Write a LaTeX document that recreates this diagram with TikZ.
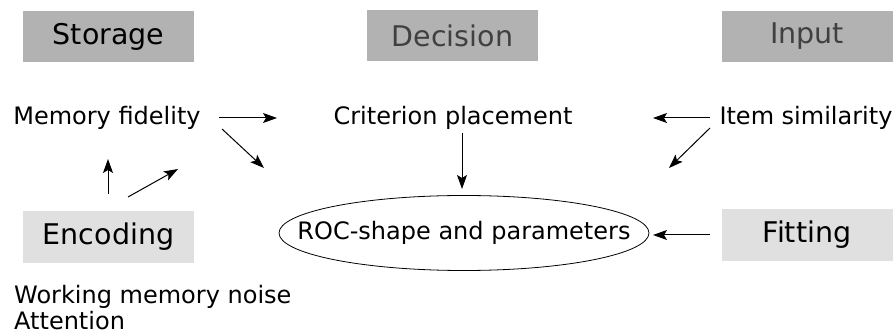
\documentclass[tikz,border=0pt]{standalone}
\usepackage{fontspec}
\setmainfont{DejaVu Sans}
\usetikzlibrary{arrows.meta}
\begin{document}
\begin{tikzpicture}[x=1pt,y=-1pt,
  head/.style={fill=black!30, minimum width=171pt, minimum height=51pt, inner sep=0pt, font=\fontsize{28.5}{32}\selectfont},
  stage/.style={fill=black!12, minimum width=171pt, minimum height=52pt, inner sep=0pt, font=\fontsize{28.5}{32}\selectfont},
  factor/.style={inner sep=1pt, font=\fontsize{24}{28}\selectfont},
  conn/.style={-{Stealth[length=14pt,width=10pt,inset=3pt]}, line width=1pt}]
\useasboundingbox (0,0) rectangle (894,336);
% category headers
\node[head] (storage) at (108.5,36.5) {Storage};
\node[head, text=black!75] (decision) at (452.5,36) {Decision};
\node[head, text=black!75] (input) at (807,36.5) {Input};
% factors
\node[factor] (fidelity) at (107,118) {Memory fidelity};
\node[factor] (criterion) at (453,118) {Criterion placement};
\node[factor] (similarity) at (806,118) {Item similarity};
% stages
\node[stage] (encoding) at (108.5,237) {Encoding};
\node[stage] (fitting) at (807,235) {Fitting};
\node[factor] (roc) at (464,233) {ROC-shape and parameters};
\draw[line width=0.8pt] (roc.center) ellipse [x radius=185, y radius=37.5];
\node[factor, anchor=north west, align=left, font=\fontsize{24}{26}\selectfont] (notes) at (13,284) {Working memory noise\\Attention};
% connector end points
\coordinate (f0) at (219,118);
\coordinate (fa) at (277,118);
\coordinate (f1) at (222,129);
\coordinate (fb) at (264,168);
\coordinate (es) at (108,194);
\coordinate (ea) at (108,159);
\coordinate (ed) at (128,197);
\coordinate (eb) at (178,169);
\coordinate (c0) at (462,133);
\coordinate (cb) at (462,189);
\coordinate (s0) at (710,118);
\coordinate (sa) at (653,118);
\coordinate (s1) at (710,128);
\coordinate (sb) at (669,168);
\coordinate (t0) at (710,235);
\coordinate (tb) at (653,235);
% connectors
\draw[conn] (f0) -- (fa);
\draw[conn] (f1) -- (fb);
\draw[conn] (es) -- (ea);
\draw[conn] (ed) -- (eb);
\draw[conn] (c0) -- (cb);
\draw[conn] (s0) -- (sa);
\draw[conn] (s1) -- (sb);
\draw[conn] (t0) -- (tb);
\end{tikzpicture}
\end{document}
